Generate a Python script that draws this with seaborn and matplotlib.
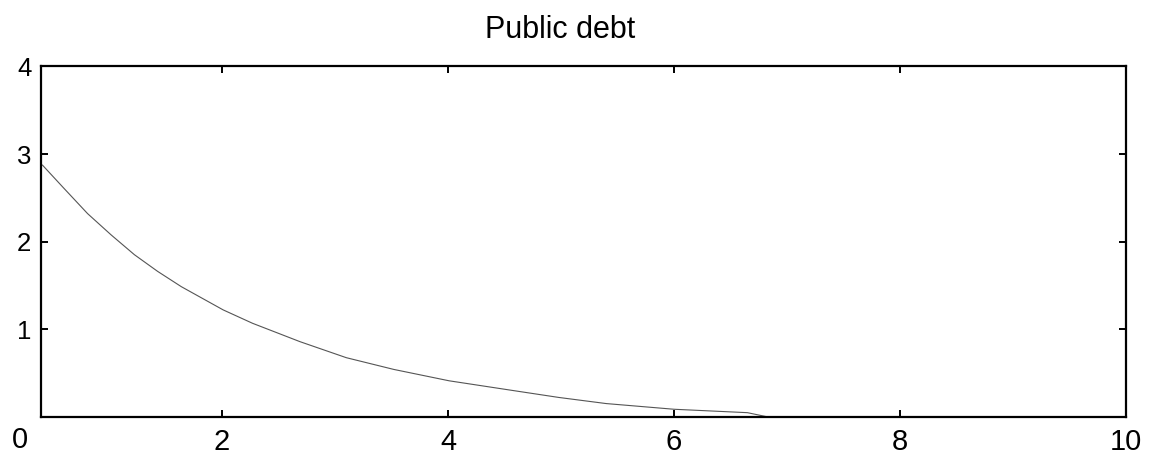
import matplotlib
matplotlib.use("Agg")
import matplotlib.pyplot as plt
import pandas as pd
import seaborn as sns

# values
years = [0.41, 0.60, 0.81, 1.02, 1.225, 1.43, 1.64, 2.01, 2.27, 2.69,
         3.10, 3.52, 4.01, 4.57, 4.98, 5.40, 6.00, 6.65, 6.82, 10.0]
debt = [2.875, 2.61, 2.32, 2.075, 1.85, 1.66, 1.485, 1.22, 1.067, 0.857,
        0.674, 0.54, 0.41, 0.30, 0.22, 0.15, 0.085, 0.046, 0.0, 0.0]
xticks = [2, 4, 6, 8, 10]
yticks = [1, 2, 3, 4]

df = pd.DataFrame({"t": years, "debt": debt})

sns.set_style("ticks")
plt.rcParams["font.family"] = ["Liberation Sans", "DejaVu Sans"]
plt.rcParams["text.color"] = "black"

fig = plt.figure(figsize=(11.54, 4.57), dpi=100)
ax = fig.add_axes([41 / 1154, 1 - 416.7 / 457, (1126 - 41) / 1154, (416.7 - 66.5) / 457])

sns.lineplot(data=df, x="t", y="debt", color="#555555", linewidth=0.8, ax=ax)

ax.set_xlim(0.398, 10)
ax.set_ylim(0, 4)
ax.set_xticks(xticks)
ax.set_yticks(yticks)
ax.set_xlabel("")
ax.set_ylabel("")
for s in ax.spines.values():
    s.set_linewidth(1.6)
    s.set_color("black")
ax.tick_params(axis="both", direction="in", length=5, width=1.4,
               top=True, right=True, pad=8, colors="black", labelcolor="black")
ax.tick_params(axis="x", labelsize=21)
ax.tick_params(axis="y", labelsize=18.5, pad=7)

# the lone "0" under the left corner
fig.text(20 / 1154, 1 - 439.5 / 457, "0", fontsize=21, ha="center", va="center",
         color="black")

fig.text(560 / 1154, 1 - 38.3 / 457, "Public debt", fontsize=22,
         ha="center", va="baseline", color="black")

fig.savefig("out.png", dpi=100)
